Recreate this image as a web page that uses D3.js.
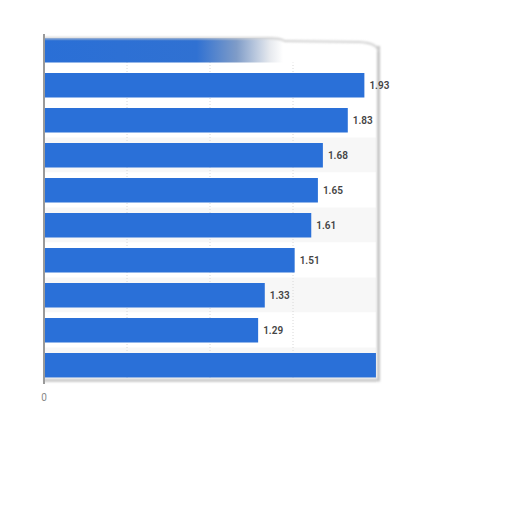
<!DOCTYPE html>
<html><head><meta charset="utf-8">
<script src="https://cdn.jsdelivr.net/npm/d3@7"></script>
<style>body{margin:0;background:#fff;}svg{display:block;}</style>
</head><body>
<svg id="c" width="512" height="512"></svg>
<script>
const categories = ["r0","r1","r2","r3","r4","r5","r6","r7","r8","r9"];
const values = [2.0, 1.93, 1.83, 1.68, 1.65, 1.61, 1.51, 1.33, 1.29, 2.0];
const showLabel = [false, true, true, true, true, true, true, true, true, false];
const xTicks = [0, 0.5, 1, 1.5, 2];
const xTickLabels = ["0"];

const svg = d3.select("#c");
const x = d3.scaleLinear().domain([0, 2]).range([44, 376]);
const y = d3.scaleBand().domain(categories).range([32.5, 382.5]).paddingInner(0);
const barH = 24.5, barOff = 5.5;

const defs = svg.append("defs");
const g1 = defs.append("linearGradient").attr("id","fade").attr("x1","0").attr("x2","1").attr("y1","0").attr("y2","0");
g1.append("stop").attr("offset","0%").attr("stop-color","#2a6fd6");
g1.append("stop").attr("offset","46%").attr("stop-color","#3071d2");
g1.append("stop").attr("offset","58%").attr("stop-color","#7f9cc8");
g1.append("stop").attr("offset","68%").attr("stop-color","#e6e9ee");
g1.append("stop").attr("offset","72%").attr("stop-color","#ffffff");
g1.append("stop").attr("offset","100%").attr("stop-color","#ffffff");
const sh = defs.append("filter").attr("id","sh").attr("filterUnits","userSpaceOnUse")
  .attr("x",0).attr("y",0).attr("width",512).attr("height",512);
sh.append("feGaussianBlur").attr("stdDeviation","1");

// row bands
svg.append("g").selectAll("rect").data(categories).join("rect")
  .attr("x", x(0)).attr("width", x(2) - x(0))
  .attr("y", d => y(d)).attr("height", y.step())
  .attr("fill", (d,i) => (i % 2 === 1 && i > 2) ? "#f7f7f7" : "#ffffff");

// grid lines
svg.append("g").selectAll("line").data(xTicks.filter(t => t > 0 && t < 2)).join("line")
  .attr("x1", d => x(d)).attr("x2", d => x(d))
  .attr("y1", 38).attr("y2", 380)
  .attr("stroke", "#d8d8d8").attr("stroke-dasharray", "1,2");

// bars
svg.append("g").selectAll("rect").data(values).join("rect")
  .attr("x", x(0))
  .attr("y", (d,i) => y(categories[i]) + barOff)
  .attr("height", barH)
  .attr("width", d => x(d) - x(0))
  .attr("fill", (d,i) => i === 0 ? "url(#fade)" : "#2a70d8");

// frame: right border, bottom border with shadow
const frame = svg.append("g").attr("filter","url(#sh)");
frame.append("rect").attr("x", x(2)+1).attr("y", 46).attr("width", 3).attr("height", 335).attr("fill", "#c4c4c4");
frame.append("rect").attr("x", x(0)).attr("y", 379).attr("width", x(2)+4-x(0)).attr("height", 2.5).attr("fill", "#c4c4c4");
frame.append("path").attr("d", `M${x(0)},38 L${x(1.35)},38 Q${x(1.42)},38 ${x(1.45)},41 L${x(1.9)},42 Q${x(2)+2},43 ${x(2)+2.5},52`)
  .attr("fill","none").attr("stroke","#d0d0d0").attr("stroke-width",2);
// left axis line
svg.append("line").attr("x1", x(0)).attr("x2", x(0)).attr("y1", 34).attr("y2", 384)
  .attr("stroke", "#9a9a9a").attr("stroke-width", 2);

// value labels
svg.append("g").selectAll("text").data(values.map((v,i)=>({v,i})).filter(d => showLabel[d.i])).join("text")
  .attr("x", d => x(d.v) + 5)
  .attr("y", d => y(categories[d.i]) + barOff + barH/2)
  .attr("dy", "0.35em")
  .attr("font-family", "Roboto, 'Open Sans', sans-serif")
  .attr("font-size", 10).attr("font-weight", 600)
  .attr("fill", "#444")
  .text(d => d.v.toFixed(2));

// x tick label
svg.append("g").selectAll("text").data(xTickLabels).join("text")
  .attr("x", d => x(+d)).attr("y", 397).attr("dy","0.35em")
  .attr("text-anchor","middle")
  .attr("font-family", "Roboto, 'Open Sans', sans-serif")
  .attr("font-size", 10).attr("fill", "#888")
  .text(d => d);
</script>
</body></html>
